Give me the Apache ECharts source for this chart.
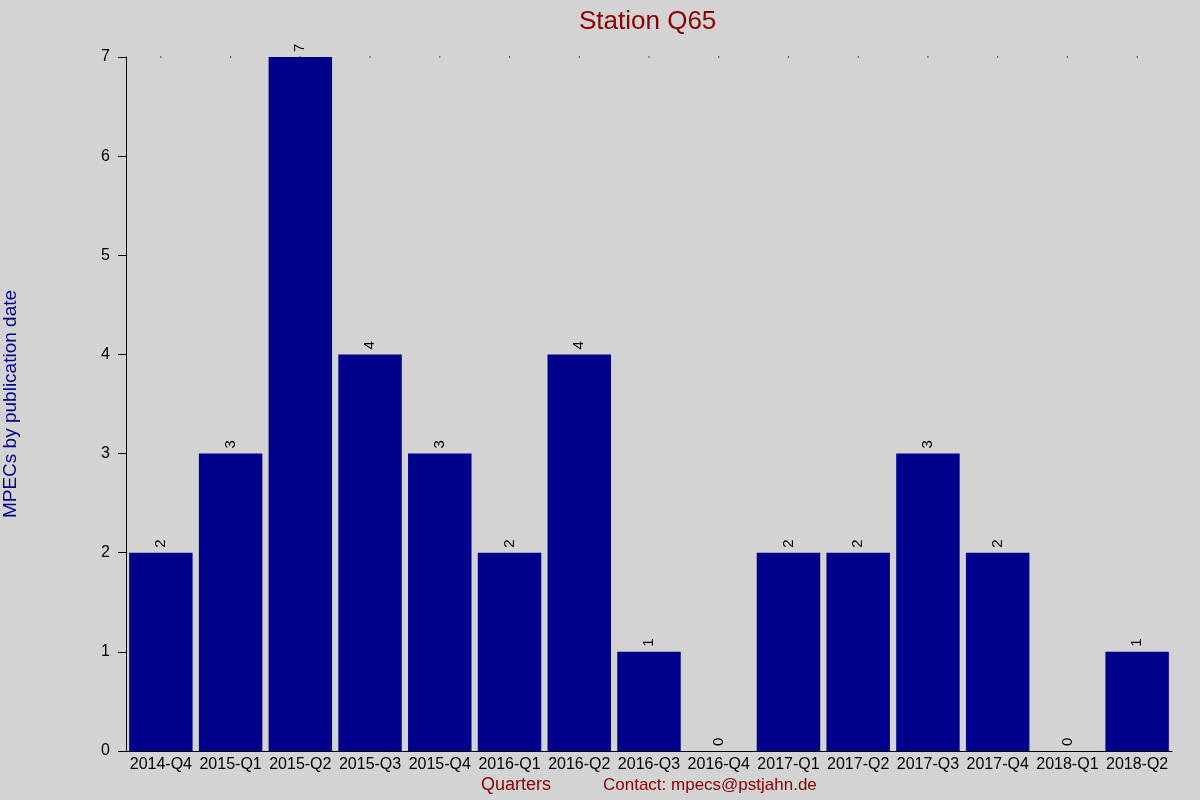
<!DOCTYPE html>
<html>
<head>
    <meta charset="utf-8" />
    <title>Station Q65</title>
    <style>
        html, body { margin: 0; padding: 0; background: #d3d3d3; }
        #main { width: 1200px; height: 800px; }
    </style>
</head>
<body>
    <div id="main"></div>
</body>
<script src="https://cdn.jsdelivr.net/npm/echarts@6/dist/echarts.min.js"></script>
<script type="text/javascript">
    var quarters = ['2014-Q4', '2015-Q1', '2015-Q2', '2015-Q3', '2015-Q4', '2016-Q1', '2016-Q2', '2016-Q3',
        '2016-Q4', '2017-Q1', '2017-Q2', '2017-Q3', '2017-Q4', '2018-Q1', '2018-Q2'];
    var mpecs = [2, 3, 7, 4, 3, 2, 4, 1, 0, 2, 2, 3, 2, 0, 1];
    var yTicks = [0, 1, 2, 3, 4, 5, 6, 7];

    var chartDom = document.getElementById('main');
    var myChart = echarts.init(chartDom);
    var font = 'Liberation Sans, Arial, sans-serif';
    var option;

    option = {
        backgroundColor: '#d3d3d3',
        animation: false,
        title: {
            text: 'Station Q65',
            left: 574,
            top: 4,
            textStyle: { color: '#8b0000', fontSize: 26, fontWeight: 'normal', fontFamily: font }
        },
        grid: { left: 126, right: 28, top: 57, bottom: 49, outerBoundsMode: 'none', containLabel: false },
        xAxis: {
            type: 'category',
            data: quarters,
            axisLine: { lineStyle: { color: '#000', width: 1 } },
            axisTick: { show: false },
            axisLabel: { color: '#000', fontSize: 16, fontFamily: font, margin: 6, interval: 0 }
        },
        yAxis: {
            type: 'value',
            min: yTicks[0],
            max: yTicks[yTicks.length - 1],
            interval: 1,
            name: 'MPECs by publication date',
            nameLocation: 'middle',
            nameGap: 106,
            nameTextStyle: { color: '#00008b', fontSize: 19, fontFamily: font },
            axisLine: { show: true, lineStyle: { color: '#000', width: 1 } },
            axisTick: { show: true, length: 8, lineStyle: { color: '#000' } },
            axisLabel: { color: '#000', fontSize: 16, fontFamily: font, margin: 16 },
            splitLine: { show: false }
        },
        graphic: [
            {
                type: 'text', left: 481, top: 776,
                style: { text: 'Quarters', fill: '#8b0000', fontSize: 18, fontFamily: font }
            },
            {
                type: 'text', left: 603, top: 777,
                style: { text: 'Contact: mpecs@pstjahn.de', fill: '#8b0000', fontSize: 17, fontFamily: font }
            }
        ],
        series: [
            {
                type: 'bar',
                data: mpecs,
                barCategoryGap: '9%',
                itemStyle: { color: '#00008b' },
                label: {
                    show: true,
                    position: 'top',
                    rotate: 90,
                    align: 'left',
                    verticalAlign: 'middle',
                    distance: 5,
                    color: '#000',
                    fontSize: 15,
                    fontFamily: font
                }
            },
            {
                // dotted top reference marks at category centres
                type: 'scatter',
                data: quarters.map(function () { return yTicks[yTicks.length - 1]; }),
                symbolSize: 1.5,
                itemStyle: { color: '#000' },
                z: 1,
                silent: true
            }
        ]
    };

    option && myChart.setOption(option);
</script>
</html>
